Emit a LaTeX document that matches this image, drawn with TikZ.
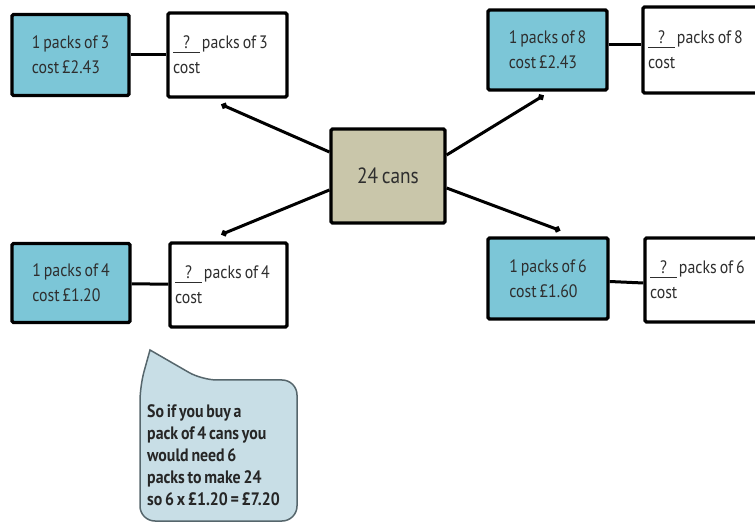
\documentclass[tikz,border=0pt]{standalone}
\usepackage{fontspec}
\setmainfont[FakeStretch=0.88, WordSpace=0.7]{PT Sans}
\usetikzlibrary{arrows.meta}

\definecolor{packblue}{HTML}{7CC6D7}
\definecolor{hubtan}{HTML}{C9C6AA}
\definecolor{notefill}{HTML}{C8DEE6}
\definecolor{noteedge}{HTML}{56666C}
\definecolor{ink}{HTML}{2E2E2E}

% underlined blank with a question mark
\newcommand{\qblank}{\rlap{\rule[-4pt]{27pt}{0.9pt}}\makebox[27pt]{?}\hspace{2pt}}

\begin{document}
\begin{tikzpicture}[x=1pt,y=-1pt,
  box/.style={draw=black, line width=3.2pt, rounded corners=1.5pt, text=ink,
              inner sep=0pt, font=\fontsize{18}{25}\selectfont},
  offer/.style={box, fill=packblue, align=left},
  answer/.style={box, fill=white, align=flush left, inner xsep=5pt, text width=#1},
  hub/.style={box, fill=hubtan, font=\fontsize{22}{26}\selectfont},
  link/.style={line width=3pt, black},
  spoke/.style={line width=3pt, black, -{Circle[length=6pt]}},
  bubble/.style={draw=noteedge, line width=1.5pt, fill=notefill},
]
\useasboundingbox (0,0) rectangle (755,526);
\clip (0,0) rectangle (755,526);

% central hub
\node[hub, minimum width=114pt, minimum height=94pt] (c) at (388,176) {24 cans};

% price boxes
\node[offer, minimum width=117pt, minimum height=81pt] (b1) at (70.5,55) {1 packs of 3\\cost £2.43};
\node[offer, minimum width=119pt, minimum height=80pt] (b2) at (547.5,50) {1 packs of 8\\cost £2.43};
\node[offer, minimum width=118pt, minimum height=79pt] (b3) at (71,283) {1 packs of 4\\cost £1.20};
\node[offer, minimum width=120pt, minimum height=81pt] (b4) at (548,278.5) {1 packs of 6\\cost £1.60};

% answer boxes
\node[answer=109pt, minimum height=84pt] (w1) at (227.5,55) {\qblank packs of 3\\cost};
\node[answer=116pt, minimum height=86pt] (w2) at (706,50) {\qblank packs of 8\\cost};
\node[answer=107pt, minimum height=84pt] (w3) at (228.5,285) {\qblank packs of 4\\cost};
\node[answer=114pt, minimum height=84pt] (w4) at (707,280) {\qblank packs of 6\\cost};

% price box to answer box
\draw[link] (b1) -- (w1);
\draw[link] ([yshift=5pt]b2.east) -- ([yshift=5pt]w2.west);
\draw[link] (b3) -- (w3);
\draw[link] ([yshift=-3pt]b4.east) -- ([yshift=-3pt]w4.west);

% spokes from the hub
\draw[spoke] ([yshift=24pt]c.west) -- ([xshift=-6pt,yshift=-6pt]w1.south);
\draw[spoke] ([yshift=21pt]c.east) -- ([xshift=-4pt,yshift=-4pt]b2.south);
\draw[spoke] ([yshift=-14pt]c.west) -- ([xshift=-7pt,yshift=7pt]w3.north);
\draw[spoke] ([yshift=-12pt]c.east) -- ([xshift=12pt,yshift=6pt]b4.north);

% speech bubble
\draw[bubble] (150,350) [rounded corners=15pt] -- (202,380) -- (297,380) -- (297,521)
  -- (140,521) -- (140,386) [sharp corners] -- cycle;
\node[anchor=north west, align=left, inner sep=0pt, text=black!85,
      font=\bfseries\fontsize{18}{22.2}\selectfont] (note) at (147,404)
  {So if you buy a\\pack of 4 cans you\\would need 6\\packs to make 24\\so 6 x £1.20 = £7.20};
\end{tikzpicture}
\end{document}
